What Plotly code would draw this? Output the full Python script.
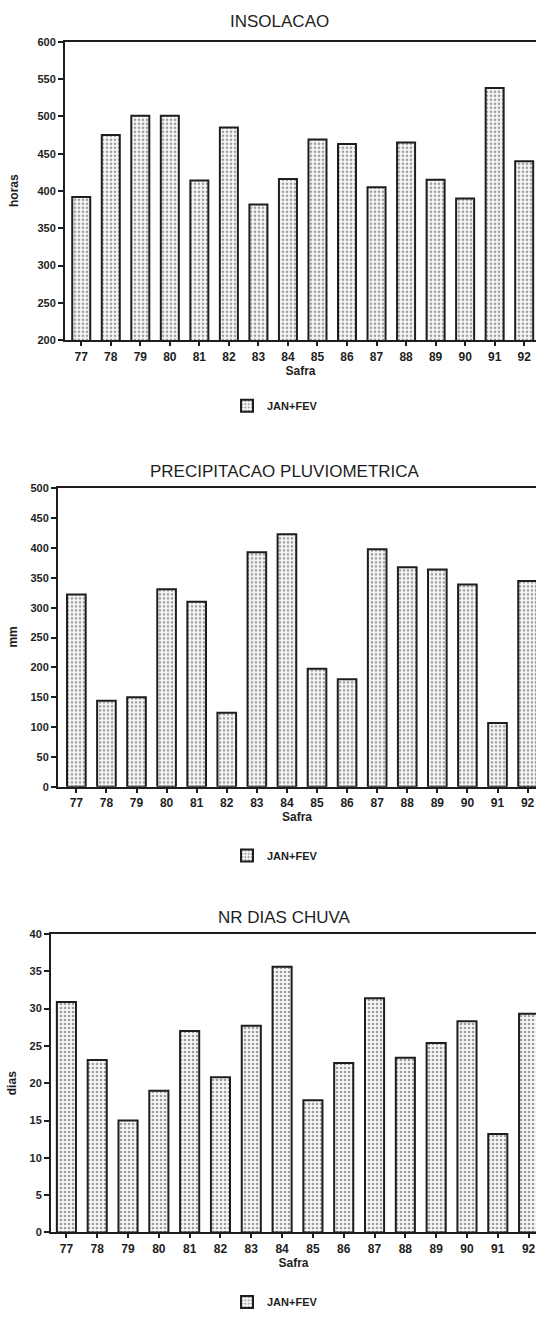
import plotly.graph_objects as go

safras = ["77", "78", "79", "80", "81", "82", "83", "84",
          "85", "86", "87", "88", "89", "90", "91", "92"]
insolacao = [392, 475, 501, 501, 414, 485, 382, 416, 469, 463, 405, 465, 415, 390, 538, 440]
precipitacao = [322, 144, 150, 331, 310, 124, 393, 423, 198, 180, 398, 368, 364, 339, 107, 345]
dias_chuva = [30.9, 23.1, 15.0, 19.0, 27.0, 20.8, 27.7, 35.6, 17.7, 22.7, 31.4, 23.4, 25.4, 28.3, 13.2, 29.3]
serie_nome = "JAN+FEV"
titulos = ["INSOLACAO", "PRECIPITACAO PLUVIOMETRICA", "NR DIAS CHUVA"]
y_titulos = ["horas", "mm", "dias"]
x_titulo = "Safra"

W, H = 536, 1317
INK = "#1e1e1e"

def fx(px):
    return px / W

def fy(py):
    return 1 - py / H

panels = [
    dict(vals=insolacao, top=42, bot=342, left=65, xr=[-0.55, 15.4], yr=[200, 600], dt=50,
         bw=0.61, title_y=22, title_x=279, leg_y=408, ytitle_x=14),
    dict(vals=precipitacao, top=491, bot=791, left=58, xr=[-0.61, 15.28], yr=[0, 500], dt=50,
         bw=0.62, title_y=474, title_x=285, leg_y=860, ytitle_x=13),
    dict(vals=dias_chuva, top=939, bot=1239, left=51, xr=[-0.5, 15.24], yr=[0, 40], dt=5,
         bw=0.62, title_y=922, title_x=284, leg_y=1309, ytitle_x=12),
]

fig = go.Figure()
tickfont = dict(family="Liberation Sans", size=11, color=INK, weight="bold")
annotations = []
for i, p in enumerate(panels):
    n = "" if i == 0 else str(i + 1)
    fig.add_trace(go.Bar(
        x=safras, y=p["vals"], name=serie_nome, width=p["bw"],
        xaxis="x" + n, yaxis="y" + n, legend="legend" + n,
        marker=dict(color="#f7f7f7",
                    line=dict(color=INK, width=2),
                    pattern=dict(shape=".", fgcolor="#444444", bgcolor="#f7f7f7",
                                 size=4, solidity=0.35)),
    ))
    xa = dict(
        domain=[fx(p["left"]), 1], range=p["xr"], type="category",
        anchor="y" + n, showline=True, linecolor=INK, linewidth=2, mirror=True,
        ticks="outside", ticklen=4, tickwidth=1.5, tickcolor=INK,
        tickfont=dict(family="Liberation Sans", size=12, color=INK, weight="bold"),
        title=dict(text=x_titulo, standoff=0,
                   font=dict(family="Liberation Sans", size=12, color=INK, weight="bold")),
        showgrid=False, zeroline=False, fixedrange=True, automargin=False,
    )
    ya = dict(
        domain=[fy(p["bot"]), fy(p["top"])], range=p["yr"], dtick=p["dt"],
        anchor="x" + n, showline=True, linecolor=INK, linewidth=2,
        ticks="outside", ticklen=5, tickwidth=1.5, tickcolor=INK, tickfont=tickfont,
        showgrid=False, zeroline=False, fixedrange=True, automargin=False,
    )
    fig.update_layout(**{"xaxis" + n: xa, "yaxis" + n: ya})
    fig.update_layout(**{"legend" + n: dict(
        x=fx(275), xanchor="center", y=fy(p["leg_y"]), yanchor="middle",
        orientation="h", bgcolor="rgba(0,0,0,0)",
        font=dict(family="Liberation Sans", size=11, color=INK, weight="bold"),
    )})
    annotations.append(dict(
        text=titulos[i], x=fx(p["title_x"]), y=fy(p["title_y"]), xref="paper", yref="paper",
        xanchor="center", yanchor="middle", showarrow=False,
        font=dict(family="Liberation Sans", size=17, color=INK),
    ))
    annotations.append(dict(
        text=y_titulos[i], x=fx(p["ytitle_x"]), y=fy((p["top"] + p["bot"]) / 2),
        xref="paper", yref="paper", xanchor="center", yanchor="middle", textangle=-90,
        showarrow=False,
        font=dict(family="Liberation Sans", size=12, color=INK, weight="bold"),
    ))

fig.update_layout(
    width=W, height=H, margin=dict(l=0, r=0, t=0, b=0),
    paper_bgcolor="white", plot_bgcolor="white",
    annotations=annotations, showlegend=True, bargap=0.4,
)
fig.write_html("out.html", config={"displayModeBar": False},
               post_script="document.body.style.margin='0';")
